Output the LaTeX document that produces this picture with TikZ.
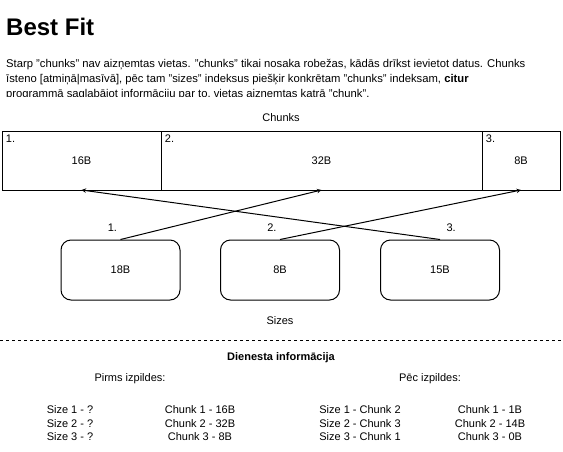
\documentclass[tikz,border=0pt]{standalone}
\usepackage{fontspec}
\setmainfont{Liberation Sans}
\usetikzlibrary{positioning}

\tikzset{
  chunkbox/.style={draw, line width=1pt, minimum height=59pt, inner sep=0pt, outer sep=0pt, anchor=north west},
  sizebox/.style={draw, line width=1pt, rounded corners=10pt, minimum width=119pt, minimum height=60pt},
  idx/.style={inner sep=3.7pt}
}

\begin{document}
\begin{tikzpicture}[x=1pt, y=-1pt, >=stealth, font=\fontsize{11}{13.5}\selectfont]

    \useasboundingbox (0,0) rectangle (563,451);

    % Title and explanation (last line is cut off)
    \node[anchor=base west, inner sep=0pt] (title) at (6,35) {\fontsize{24}{28}\selectfont\bfseries Best Fit};
    \begin{scope}
        \clip (0,50) rectangle (563,96.5);
        \node[anchor=base west, inner sep=0pt, align=left, font=\fontsize{11.25}{15}\selectfont] (intro) at (6,97)
            {Starp "chunks" nav aizņemtas vietas. "chunks" tikai nosaka robežas, kādās drīkst ievietot datus. Chunks\\
             īsteno [atmiņā|masīvā], pēc tam "sizes" indeksus piešķir konkrētam "chunks" indeksam, \textbf{citur}\\
             programmā saglabājot informāciju par to, vietas aizņemtas katrā "chunk".};
    \end{scope}

    % Chunks row
    \node (chunkslbl) at (281,118) {Chunks};
    \node[chunkbox, minimum width=159pt] (c1) at (2,131) {16B};
    \node[chunkbox, minimum width=321pt] (c2) at (c1.north east) {32B};
    \node[chunkbox, minimum width=78pt] (c3) at (c2.north east) {8B};
    \node[idx, anchor=north west] (c1n) at (c1.north west) {1.};
    \node[idx, anchor=north west] (c2n) at (c2.north west) {2.};
    \node[idx, anchor=north west] (c3n) at (c3.north west) {3.};

    % Sizes row
    \node[sizebox] (s1) at (120.5,270) {18B};
    \node[sizebox] (s2) at (280,270) {8B};
    \node[sizebox] (s3) at (440,270) {15B};
    \node[above left=4pt and 0pt of s1.north] (s1n) {1.};
    \node[above left=4pt and 0pt of s2.north] (s2n) {2.};
    \node[above right=4pt and 3pt of s3.north] (s3n) {3.};
    \node[below=12pt of s2] (sizeslbl) {Sizes};

    % Placement
    \draw[->, line width=1pt] (s1.north) -- (c2.south);
    \draw[->, line width=1pt] (s2.north) -- (c3.south);
    \draw[->, line width=1pt] (s3.north) -- (c1.south);

    % Separator
    \draw[dashed, dash pattern=on 3pt off 3pt, line width=1pt] (0,340) -- (563,340);

    % Service info
    \node (info) at (281,358) {\bfseries Dienesta informācija};
    \node (before) at (130,379) {Pirms izpildes:};
    \node (after) at (430,379) {Pēc izpildes:};
    \node[align=center] (bsizes) at (70,423.5) {Size 1 - ?\\Size 2 - ?\\Size 3 - ?};
    \node[align=center] (bchunks) at (200,423.5) {Chunk 1 - 16B\\Chunk 2 - 32B\\Chunk 3 - 8B};
    \node[align=center] (asizes) at (360,423.5) {Size 1 - Chunk 2\\Size 2 - Chunk 3\\Size 3 - Chunk 1};
    \node[align=center] (achunks) at (490,423.5) {Chunk 1 - 1B\\Chunk 2 - 14B\\Chunk 3 - 0B};

\end{tikzpicture}
\end{document}
